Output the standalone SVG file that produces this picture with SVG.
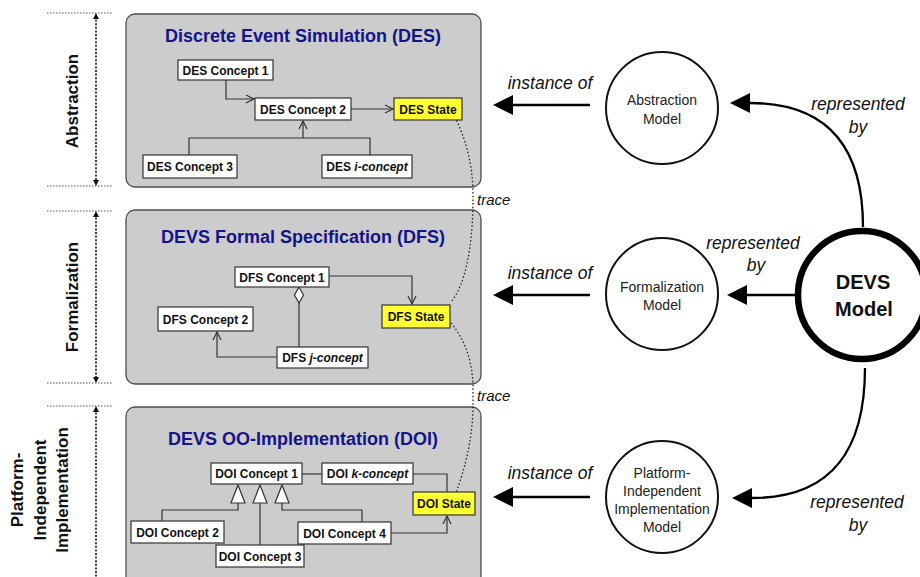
<svg xmlns="http://www.w3.org/2000/svg" width="920" height="577" viewBox="0 0 920 577">
<style>
.panel{fill:#cccccc;stroke:#4d4d4d;stroke-width:1.3}
.title{font-family:"Liberation Sans",Arial,sans-serif;font-weight:bold;font-size:18px;fill:#14148a;text-anchor:middle}
.box{fill:#ffffff;stroke:#333333;stroke-width:1.2}
.state{fill:#ffff33;stroke:#333333;stroke-width:1.2}
.bl{font-family:"Liberation Sans",Arial,sans-serif;font-weight:bold;font-size:12px;fill:#111;text-anchor:middle}
.conn{fill:none;stroke:#333333;stroke-width:1.2}
.oa{fill:none;stroke:#333333;stroke-width:1.2;marker-end:url(#open)}
.trace{fill:none;stroke:#222;stroke-width:1.3;stroke-dasharray:1.5 2.2}
.it{font-family:"Liberation Sans",Arial,sans-serif;font-style:italic;font-size:17.5px;fill:#111;text-anchor:middle}
.tr{font-family:"Liberation Sans",Arial,sans-serif;font-style:italic;font-size:15px;fill:#111}
.circ{fill:#ffffff;stroke:#111;stroke-width:2}
.ct{font-family:"Liberation Sans",Arial,sans-serif;font-size:14px;fill:#222;text-anchor:middle}
.big{fill:none;stroke:#000;stroke-width:2.3}
.lab{font-family:"Liberation Sans",Arial,sans-serif;font-weight:bold;font-size:17px;fill:#111;text-anchor:middle}
.hd{stroke:#555;stroke-width:1;stroke-dasharray:1.5 1.5;fill:none}
.vd{stroke:#111;stroke-width:1.6;stroke-dasharray:2 1.6;fill:none}
</style>
<defs>
<marker id="open" markerWidth="12" markerHeight="12" refX="9" refY="5" orient="auto" markerUnits="userSpaceOnUse">
<path d="M1,1 L9,5 L1,9" fill="none" stroke="#333" stroke-width="1.2"/>
</marker>
<marker id="fill" markerWidth="22" markerHeight="22" refX="0" refY="10" orient="auto" markerUnits="userSpaceOnUse">
<path d="M0,0 L20,10 L0,20 Z" fill="#000"/>
</marker>
</defs>

<g id="layer-guides">
<line class="hd" x1="47" y1="13" x2="112" y2="13"/>
<line class="hd" x1="47" y1="186" x2="112" y2="186"/>
<line class="hd" x1="47" y1="211" x2="112" y2="211"/>
<line class="hd" x1="47" y1="383" x2="112" y2="383"/>
<line class="hd" x1="47" y1="406" x2="112" y2="406"/>
<path class="vd" d="M96,16 L96,183"/>
<path d="M93,19 L96,13 L99,19 Z M93,180 L96,186 L99,180 Z" fill="#111"/>
<path class="vd" d="M96,214 L96,380"/>
<path d="M93,217 L96,211 L99,217 Z M93,377 L96,383 L99,377 Z" fill="#111"/>
<path class="vd" d="M96,409 L96,577"/>
<path d="M93,412 L96,406 L99,412 Z" fill="#111"/>
<text class="lab" transform="translate(78,101) rotate(-90)">Abstraction</text>
<text class="lab" transform="translate(78,297) rotate(-90)">Formalization</text>
<text class="lab" transform="translate(23,490) rotate(-90)">Platform-</text>
<text class="lab" transform="translate(46,490) rotate(-90)">Independent</text>
<text class="lab" transform="translate(68,490) rotate(-90)">Implementation</text>
</g>

<g id="panel-des">
<rect class="panel" x="126" y="14" width="355" height="173" rx="9"/>
<text class="title" x="303" y="42">Discrete Event Simulation (DES)</text>
</g>
<g id="panel-dfs">
<rect class="panel" x="126" y="210" width="355" height="174" rx="9"/>
<text class="title" x="303" y="243">DEVS Formal Specification (DFS)</text>
</g>
<g id="panel-doi">
<rect class="panel" x="126" y="407" width="355" height="185" rx="9"/>
<text class="title" x="303" y="445">DEVS OO-Implementation (DOI)</text>
</g>

<g id="connectors">
<path class="oa" d="M226,80 L226,99 L254,99"/>
<path class="oa" d="M351,109 L393,109"/>
<path class="conn" d="M189,155 L189,138 L370,138 L370,155"/>
<path class="oa" d="M303,138 L303,121"/>
<path class="oa" d="M329,276 L412,276 L412,304"/>
<path d="M299,287 L303.5,295 L299,303 L294.5,295 Z" fill="#fff" stroke="#333" stroke-width="1.2"/>
<path class="conn" d="M299,303 L299,347"/>
<path class="oa" d="M277,357 L217,357 L217,332"/>
<path class="conn" d="M302,474 L322,474"/>
<path class="conn" d="M413,474 L447,474 L447,492"/>
<path class="oa" d="M391,533 L447,533 L447,516"/>
<path d="M238,485 L245,503 L231,503 Z M260,485 L267,503 L253,503 Z M282,485 L289,503 L275,503 Z" fill="#fff" stroke="#333" stroke-width="1.2"/>
<path class="conn" d="M162,521 L162,510 L238,510 L238,503"/>
<path class="conn" d="M260,545 L260,503"/>
<path class="conn" d="M362,522 L362,510 L282,510 L282,503"/>
<path class="trace" d="M455,117 C466,140 473,165 473,195 L473,205 C472,250 465,285 451,302"/>
<path class="trace" d="M451,323 C465,340 472,360 473,385 L473,410 C472,440 465,470 455,495"/>
<path class="big" d="M590,105 L513,105" marker-end="url(#fill)"/>
<path class="big" d="M590,295 L513,295" marker-end="url(#fill)"/>
<path class="big" d="M590,497 L513,497" marker-end="url(#fill)"/>
<path class="big" d="M795,295 L747,295" marker-end="url(#fill)"/>
<path class="big" d="M863,227 C863,150 830,103 750,103" marker-end="url(#fill)"/>
<path class="big" d="M865,368 C865,450 832,498 752,498" marker-end="url(#fill)"/>
</g>

<g id="des-concept-1"><rect class="box" x="178" y="60" width="95" height="20"/><text class="bl" x="225.5" y="74.5">DES Concept 1</text></g>
<g id="des-concept-2"><rect class="box" x="255" y="98" width="96" height="22"/><text class="bl" x="303" y="113.5">DES Concept 2</text></g>
<g id="des-state"><rect class="state" x="394" y="98" width="68" height="22"/><text class="bl" x="428" y="113.5">DES State</text></g>
<g id="des-concept-3"><rect class="box" x="143" y="155" width="94" height="23"/><text class="bl" x="190" y="171">DES Concept 3</text></g>
<g id="des-i-concept"><rect class="box" x="322" y="155" width="90" height="23"/><text class="bl" x="367" y="171">DES <tspan font-style="italic">i-concept</tspan></text></g>

<g id="dfs-concept-1"><rect class="box" x="235" y="267" width="94" height="20"/><text class="bl" x="282" y="281.5">DFS Concept 1</text></g>
<g id="dfs-concept-2"><rect class="box" x="158" y="307" width="95" height="24"/><text class="bl" x="205.5" y="323.5">DFS Concept 2</text></g>
<g id="dfs-state"><rect class="state" x="382" y="305" width="68" height="23"/><text class="bl" x="416" y="321">DFS State</text></g>
<g id="dfs-j-concept"><rect class="box" x="277" y="347" width="91" height="21"/><text class="bl" x="322.5" y="362">DFS <tspan font-style="italic">j-concept</tspan></text></g>

<g id="doi-concept-1"><rect class="box" x="211" y="463" width="91" height="21"/><text class="bl" x="256.5" y="478">DOI Concept 1</text></g>
<g id="doi-k-concept"><rect class="box" x="322" y="463" width="91" height="21"/><text class="bl" x="367.5" y="478">DOI <tspan font-style="italic">k-concept</tspan></text></g>
<g id="doi-state"><rect class="state" x="413" y="492" width="62" height="23"/><text class="bl" x="444" y="508">DOI State</text></g>
<g id="doi-concept-2"><rect class="box" x="131" y="521" width="93" height="22"/><text class="bl" x="177.5" y="536.5">DOI Concept 2</text></g>
<g id="doi-concept-3"><rect class="box" x="216" y="545" width="88" height="22"/><text class="bl" x="260" y="560.5">DOI Concept 3</text></g>
<g id="doi-concept-4"><rect class="box" x="298" y="522" width="93" height="22"/><text class="bl" x="344.5" y="537.5">DOI Concept 4</text></g>

<g id="trace-labels">
<text class="tr" x="477" y="205">trace</text>
<text class="tr" x="477" y="401">trace</text>
</g>

<g id="abstraction-model">
<circle class="circ" cx="662" cy="108" r="56"/>
<text class="ct" x="662" y="105">Abstraction</text>
<text class="ct" x="662" y="124">Model</text>
</g>
<g id="formalization-model">
<circle class="circ" cx="662" cy="294" r="56"/>
<text class="ct" x="662" y="292">Formalization</text>
<text class="ct" x="662" y="310">Model</text>
</g>
<g id="pim-model">
<circle class="circ" cx="662" cy="497" r="56"/>
<text class="ct" x="662" y="478">Platform-</text>
<text class="ct" x="662" y="496">Independent</text>
<text class="ct" x="662" y="514">Implementation</text>
<text class="ct" x="662" y="532">Model</text>
</g>
<g id="devs-model">
<circle cx="862" cy="295" r="64" fill="#fff" stroke="#000" stroke-width="6.5"/>
<text x="863" y="289" font-family="Liberation Sans, Arial, sans-serif" font-weight="bold" font-size="20" text-anchor="middle" fill="#111">DEVS</text>
<text x="864" y="316" font-family="Liberation Sans, Arial, sans-serif" font-weight="bold" font-size="20" text-anchor="middle" fill="#111">Model</text>
</g>

<g id="edge-labels">
<text class="it" x="550" y="89">instance of</text>
<text class="it" x="550" y="279">instance of</text>
<text class="it" x="550" y="479">instance of</text>
<text class="it" x="858" y="110">represented</text>
<text class="it" x="858" y="133">by</text>
<text class="it" x="753" y="249">represented</text>
<text class="it" x="756" y="271">by</text>
<text class="it" x="857" y="508">represented</text>
<text class="it" x="858" y="531">by</text>
</g>
</svg>
